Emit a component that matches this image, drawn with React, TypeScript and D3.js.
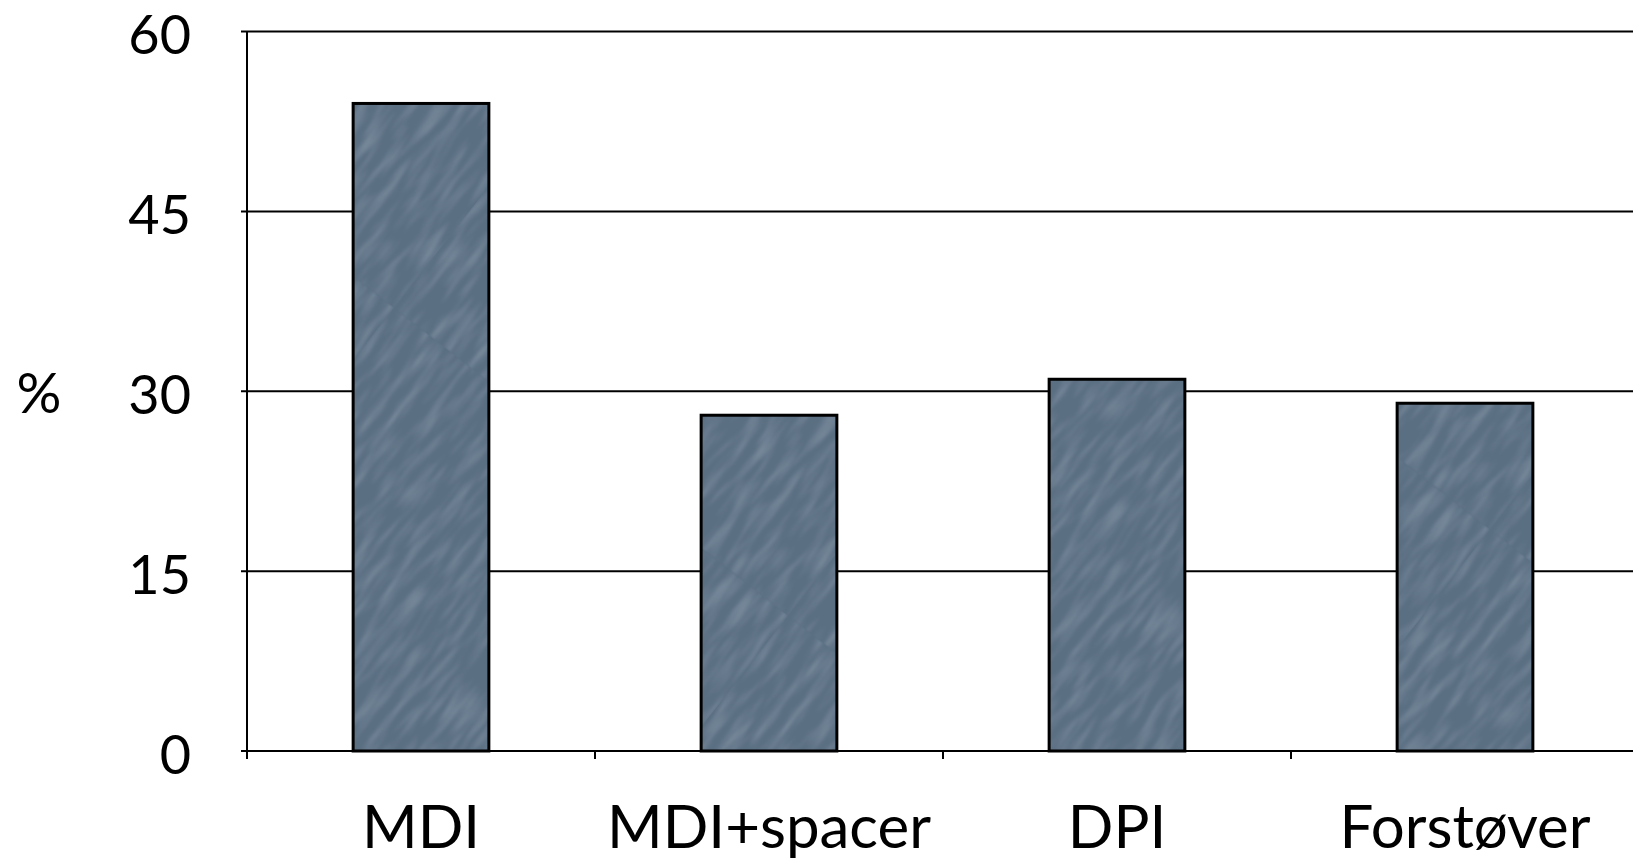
import React from "react";
import * as d3 from "d3";

const categories = ["MDI", "MDI+spacer", "DPI", "Forstøver"];
const values = [54, 28, 31, 29];
const yTicks = [0, 15, 30, 45, 60];
const yLabel = "%";

const W = 1633;
const H = 861;

export default function App() {
  const x = d3
    .scaleBand<string>()
    .domain(categories)
    .range([247, 1639])
    .paddingInner(0.61)
    .paddingOuter(0.305);
  const y = d3.scaleLinear().domain([0, 60]).range([751, 31.5]);
  const step = x.step();
  const x0 = x.range()[0];
  const font = "Lato, 'Open Sans', sans-serif";

  return (
    <svg
      width={W}
      height={H}
      style={{ position: "fixed", left: 0, top: 0, background: "#fff" }}
    >
      <defs>
        <filter id="streak" x="0" y="0" width="100%" height="100%">
          <feTurbulence type="fractalNoise" baseFrequency="0.02 0.11" numOctaves="2" seed="5" />
          <feColorMatrix
            type="matrix"
            values="0 0 0 0 0.50  0 0 0 0 0.58  0 0 0 0 0.66  0 0 0 1.4 -0.6"
          />
          <feGaussianBlur stdDeviation="0.8" />
        </filter>
        <pattern
          id="tex"
          patternUnits="userSpaceOnUse"
          width={500}
          height={500}
          patternTransform="rotate(-52)"
        >
          <rect width={500} height={500} fill="#5b6f83" />
          <rect width={500} height={500} filter="url(#streak)" opacity={0.45} />
        </pattern>
      </defs>

      {/* gridlines */}
      {yTicks.map((t) => (
        <line
          key={"g" + t}
          x1={241}
          x2={W}
          y1={y(t)}
          y2={y(t)}
          stroke="#000"
          strokeWidth={2}
        />
      ))}

      {/* y axis */}
      <line x1={247} x2={247} y1={y(60)} y2={y(0)} stroke="#000" strokeWidth={2} />

      {/* x ticks */}
      {categories.map((c, i) => (
        <line
          key={"xt" + i}
          x1={x0 + i * step}
          x2={x0 + i * step}
          y1={y(0)}
          y2={y(0) + 8}
          stroke="#000"
          strokeWidth={2}
        />
      ))}

      {/* bars */}
      {categories.map((c, i) => (
        <rect
          key={"b" + c}
          x={x(c)!}
          y={y(values[i])}
          width={x.bandwidth()}
          height={y(0) - y(values[i])}
          fill="url(#tex)"
          stroke="#000"
          strokeWidth={3}
        />
      ))}

      {/* y tick labels */}
      {yTicks.map((t) => (
        <text
          key={"yl" + t}
          x={191}
          y={y(t)}
          dy="0.42em"
          textAnchor="end"
          fontFamily={font}
          fontSize={54}
          fill="#000"
        >
          {t}
        </text>
      ))}

      {/* x labels */}
      {categories.map((c) => (
        <text
          key={"xl" + c}
          x={x(c)! + x.bandwidth() / 2}
          y={848}
          textAnchor="middle"
          fontFamily={font}
          fontSize={60}
          fill="#000"
        >
          {c}
        </text>
      ))}

      {/* y label */}
      <text
        x={39}
        y={y(30)}
        dy="0.38em"
        textAnchor="middle"
        fontFamily={font}
        fontSize={56}
        fill="#000"
      >
        {yLabel}
      </text>
    </svg>
  );
}
